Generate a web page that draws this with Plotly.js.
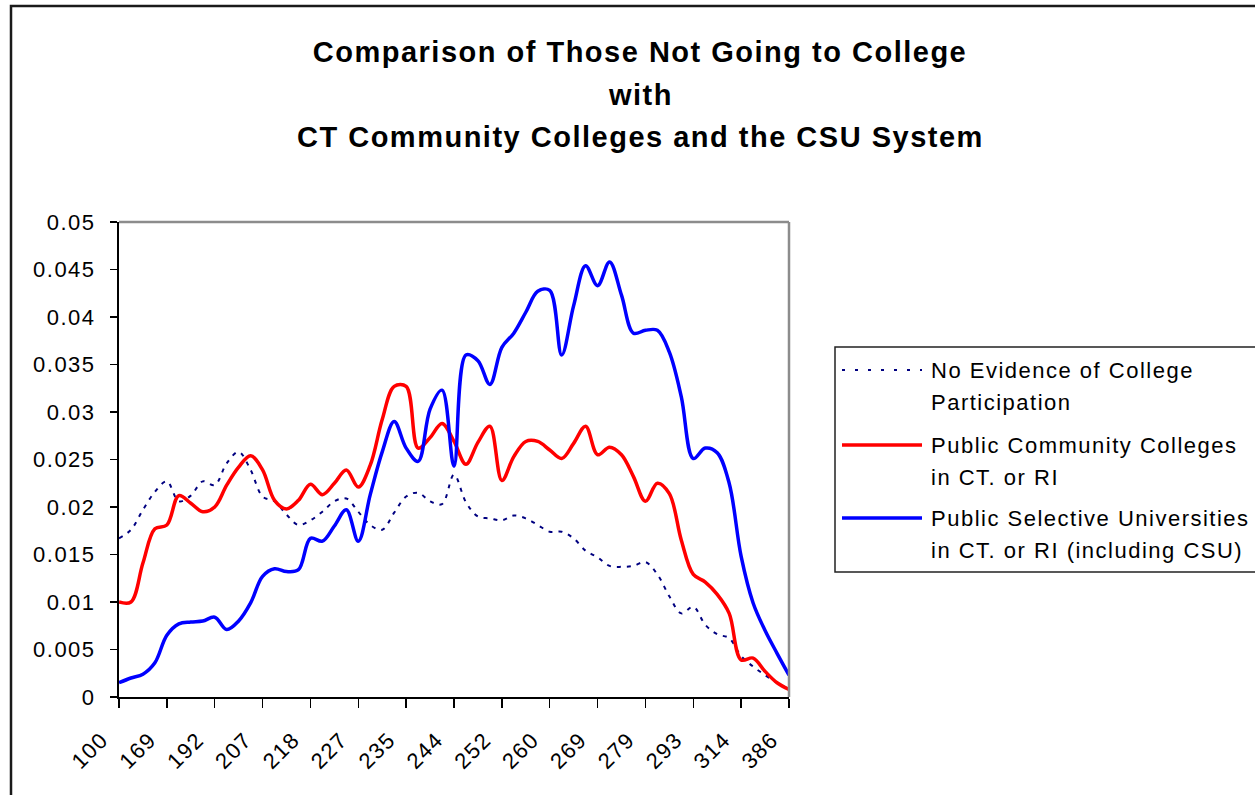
<!DOCTYPE html>
<html>
<head>
<meta charset="utf-8">
<script src="https://cdn.plot.ly/plotly-3.0.1.min.js"></script>
<style>
  html, body { margin: 0; padding: 0; background: #fff; }
  #chart { width: 1255px; height: 795px; }
  svg text { letter-spacing: 1.5px; }
</style>
</head>
<body>
<div id="chart"></div>
<script>
// ---------------- DATA ----------------
const titleLines = [
  "Comparison of Those Not Going to College",
  "with",
  "CT Community Colleges and the CSU System"
];

// tick labels shown every 4th category
const tickLabels = ["100","169","192","207","218","227","235","244","252","260","269","279","293","314","386"];

const seriesNames = [
  ["No Evidence of College", "Participation"],
  ["Public Community Colleges", "in CT. or RI"],
  ["Public Selective Universities", "in CT. or RI (including CSU)"]
];

const noCollege = [
  0.0167,0.0176,0.0197,0.0216,0.0227,0.0206,0.0212,0.0227,0.0223,0.0246,
  0.0258,0.0239,0.0211,0.0206,0.0192,0.0181,0.0186,0.0195,0.0206,0.0209,
  0.0195,0.0181,0.0176,0.0194,0.0211,0.0215,0.0206,0.0203,0.0234,0.0205,
  0.0190,0.0188,0.0186,0.0191,0.0188,0.0181,0.0174,0.0174,0.0167,0.0154,
  0.0147,0.0138,0.0137,0.0138,0.0142,0.0129,0.0106,0.0088,0.0095,0.0076,
  0.0066,0.0062,0.0043,0.0032,0.0023,0.0015,0.0008
];

const communityColleges = [
  0.0100,0.0100,0.0141,0.0177,0.0181,0.0212,0.0204,0.0195,0.0200,0.0223,
  0.0242,0.0254,0.0239,0.0207,0.0198,0.0207,0.0224,0.0213,0.0225,0.0239,
  0.0221,0.0244,0.0292,0.0327,0.0327,0.0262,0.0273,0.0288,0.0269,0.0245,
  0.0268,0.0285,0.0228,0.0253,0.0269,0.0269,0.0260,0.0251,0.0267,0.0285,
  0.0255,0.0263,0.0255,0.0232,0.0206,0.0225,0.0214,0.0165,0.0129,0.0121,
  0.0108,0.0088,0.0039,0.0041,0.0027,0.0015,0.0008
];

const selectiveUniversities = [
  0.0015,0.0020,0.0024,0.0036,0.0065,0.0077,0.0079,0.0080,0.0084,0.0071,
  0.0080,0.0099,0.0127,0.0135,0.0132,0.0134,0.0167,0.0164,0.0180,0.0197,
  0.0164,0.0213,0.0258,0.0290,0.0262,0.0248,0.0303,0.0323,0.0243,0.0360,
  0.0354,0.0329,0.0368,0.0383,0.0405,0.0427,0.0428,0.0360,0.0412,0.0454,
  0.0433,0.0458,0.0423,0.0383,0.0386,0.0386,0.0363,0.0316,0.0251,0.0262,
  0.0257,0.0225,0.0148,0.0099,0.0070,0.0046,0.0023
];

// ---------------- LAYOUT CONSTANTS ----------------
const FONT = "Liberation Sans, Arial, Helvetica, sans-serif";
const L = 119, T = 222, W = 670, H = 475;
const FW = 1255, FH = 795;
const px2x = p => (p - L) / W;
const py2y = p => (T + H - p) / H;

const nCat = noCollege.length;
const idx = noCollege.map((_, i) => i);
const step = (nCat - 1) / (tickLabels.length - 1);
const tickVals = tickLabels.map((_, k) => k * step);

const colors = ["#000080", "#FF0000", "#0000FF"];
const allSeries = [noCollege, communityColleges, selectiveUniversities];

const traces = allSeries.map((ys, s) => ({
  type: "scatter",
  mode: "lines",
  x: idx,
  y: ys,
  name: seriesNames[s].join(" "),
  line: {
    color: colors[s],
    width: s === 0 ? 2 : 3.5,
    dash: s === 0 ? "4px,6px" : "solid",
    shape: "spline",
    smoothing: 1
  },
  hoverinfo: "skip",
  showlegend: false
}));

// legend (drawn manually so line spacing matches)
const legendRowY = [370, 445, 518];
const legendLineGap = 32;
const shapes = [
  // outer chart frame
  { type: "rect", xref: "paper", yref: "paper",
    x0: px2x(11), x1: px2x(1400), y0: py2y(1000), y1: py2y(6),
    line: { color: "#1a1a1a", width: 2.5 }, fillcolor: "rgba(0,0,0,0)" },
  // grey top & right plot border
  { type: "line", xref: "paper", yref: "paper", x0: 0, x1: 1, y0: 1, y1: 1,
    line: { color: "#8c8c8c", width: 2.5 } },
  { type: "line", xref: "paper", yref: "paper", x0: 1, x1: 1, y0: 0, y1: 1,
    line: { color: "#8c8c8c", width: 2.5 } },
  // legend box
  { type: "rect", xref: "paper", yref: "paper",
    x0: px2x(835), x1: px2x(1400), y0: py2y(572), y1: py2y(347),
    line: { color: "#222", width: 1.5 }, fillcolor: "rgba(0,0,0,0)" }
];
legendRowY.forEach((yy, s) => {
  shapes.push({ type: "line", xref: "paper", yref: "paper",
    x0: px2x(842), x1: px2x(922), y0: py2y(yy), y1: py2y(yy),
    line: { color: colors[s], width: s === 0 ? 2 : 3.5, dash: s === 0 ? "3px,10px" : "solid" } });
});

const annotations = [];
// title lines 2 and 3
[95, 137].forEach((yy, k) => {
  annotations.push({
    xref: "paper", yref: "paper", x: px2x(640), y: py2y(yy),
    xanchor: "center", yanchor: "middle", showarrow: false,
    text: titleLines[k + 1],
    font: { family: FONT, size: 29, color: "#000", weight: 700 }
  });
});
seriesNames.forEach((lines, s) => {
  lines.forEach((t, j) => {
    annotations.push({
      xref: "paper", yref: "paper", x: px2x(929), y: py2y(legendRowY[s] + j * legendLineGap),
      xanchor: "left", yanchor: "middle", showarrow: false,
      text: t, font: { family: FONT, size: 22, color: "#000" }
    });
  });
});

const layout = {
  width: FW, height: FH,
  margin: { l: L, r: FW - L - W, t: T, b: FH - T - H, pad: 0 },
  paper_bgcolor: "#fff", plot_bgcolor: "#fff",
  showlegend: false,
  font: { family: FONT, color: "#000" },
  title: {
    text: titleLines[0],
    x: 640 / FW, xanchor: "center",
    y: 1 - 52 / FH, yanchor: "middle",
    font: { family: FONT, size: 29, color: "#000", weight: 700 }
  },
  xaxis: {
    range: [0, nCat - 1],
    tickmode: "array", tickvals: tickVals, ticktext: tickLabels,
    tickangle: -45,
    ticks: "outside", ticklen: 9, tickwidth: 1.5, tickcolor: "#000",
    ticklabelstandoff: 10, ticklabelshift: -17,
    showline: true, linecolor: "#000", linewidth: 2,
    showgrid: false, zeroline: false,
    tickfont: { family: FONT, size: 22, color: "#000" },
    fixedrange: true
  },
  xaxis2: {
    overlaying: "x", anchor: "y", side: "bottom",
    range: [0, nCat - 1],
    tickmode: "array", tickvals: tickVals,
    ticks: "inside", ticklen: 7, tickwidth: 1.5, tickcolor: "#000",
    showticklabels: false, showline: false, showgrid: false, zeroline: false
  },
  yaxis: {
    range: [0, 0.05], dtick: 0.005, tick0: 0,
    ticks: "outside", ticklen: 7, tickwidth: 1.5, tickcolor: "#000",
    ticklabelstandoff: 10,
    showline: true, linecolor: "#000", linewidth: 2,
    showgrid: false, zeroline: false,
    tickfont: { family: FONT, size: 22, color: "#000" },
    fixedrange: true
  },
  yaxis2: {
    overlaying: "y", anchor: "x", side: "left",
    range: [0, 0.05], dtick: 0.005, tick0: 0,
    ticks: "inside", ticklen: 8, tickwidth: 1.5, tickcolor: "#000",
    showticklabels: false, showline: false, showgrid: false, zeroline: false
  },
  shapes: shapes,
  annotations: annotations
};

Plotly.newPlot("chart", traces, layout, { staticPlot: true, displayModeBar: false });
</script>
</body>
</html>
